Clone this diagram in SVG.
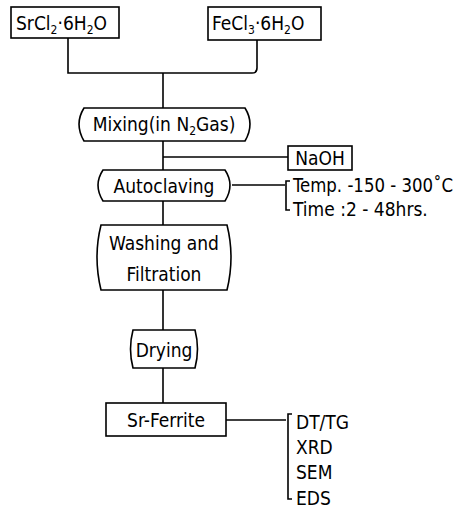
<svg xmlns="http://www.w3.org/2000/svg" width="467" height="515" viewBox="0 0 467 515">
<style>
.b{fill:#fff;stroke:#000;stroke-width:1.6}
.l{fill:none;stroke:#000;stroke-width:1.6}
text{font-family:"DejaVu Sans Condensed","Liberation Sans",sans-serif;font-size:19px;fill:#000}
.c{text-anchor:middle}
.s{font-size:12px}
</style>
<rect width="467" height="515" fill="#fff"/>
<g id="connectors">
<path class="l" d="M68 38V73H252Q257 73 257 68V40"/>
<path class="l" d="M163 73V108"/>
<path class="l" d="M163 141V170"/>
<path class="l" d="M163 157H288"/>
<path class="l" d="M232 185H285"/>
<path class="l" d="M290 181H286V210H290"/>
<path class="l" d="M163 201V225"/>
<path class="l" d="M163 290V330"/>
<path class="l" d="M163 368V403"/>
<path class="l" d="M226 420H286"/>
<path class="l" d="M292 414H288V499H292"/>
</g>
<g id="srcl2">
<rect class="b" x="11" y="7" width="108" height="31"/>
<text x="16" y="30">SrCl<tspan class="s" dy="4">2</tspan><tspan dy="-4">·6H</tspan><tspan class="s" dy="4">2</tspan><tspan dy="-4">O</tspan></text>
</g>
<g id="fecl3">
<rect class="b" x="208" y="7" width="113" height="33"/>
<text x="212" y="30">FeCl<tspan class="s" dy="4">3</tspan><tspan dy="-4">·6H</tspan><tspan class="s" dy="4">2</tspan><tspan dy="-4">O</tspan></text>
</g>
<g id="mixing">
<path class="b" d="M84 108H245Q255 124 245 141H84Q74 124 84 108Z"/>
<text x="164" y="131" class="c">Mixing(in N<tspan class="s" dy="4">2</tspan><tspan dy="-4">Gas)</tspan></text>
</g>
<g id="naoh">
<rect class="b" x="288" y="146" width="64" height="24"/>
<text x="320" y="165" class="c">NaOH</text>
</g>
<g id="autoclaving">
<path class="b" d="M103 170H225Q235 185 225 201H103Q93 185 103 170Z"/>
<text x="164" y="193" class="c">Autoclaving</text>
</g>
<g id="conditions">
<text x="293" y="192" textLength="160" lengthAdjust="spacingAndGlyphs">Temp. -150 - 300˚C</text>
<text x="293" y="216">Time :2 - 48hrs.</text>
</g>
<g id="washing">
<path class="b" d="M101 225H227Q235 257 227 290H101Q93 257 101 225Z"/>
<text x="164" y="250" class="c">Washing and</text>
<text x="164" y="281" class="c">Filtration</text>
</g>
<g id="drying">
<path class="b" d="M133 330H195Q200 349 195 368H133Q128 349 133 330Z"/>
<text x="164" y="357" class="c">Drying</text>
</g>
<g id="srferrite">
<rect class="b" x="106" y="403" width="120" height="33"/>
<text x="166" y="427" class="c">Sr-Ferrite</text>
</g>
<g id="analysis">
<text x="296" y="429">DT/TG</text>
<text x="296" y="454">XRD</text>
<text x="296" y="479">SEM</text>
<text x="296" y="505">EDS</text>
</g>
</svg>
